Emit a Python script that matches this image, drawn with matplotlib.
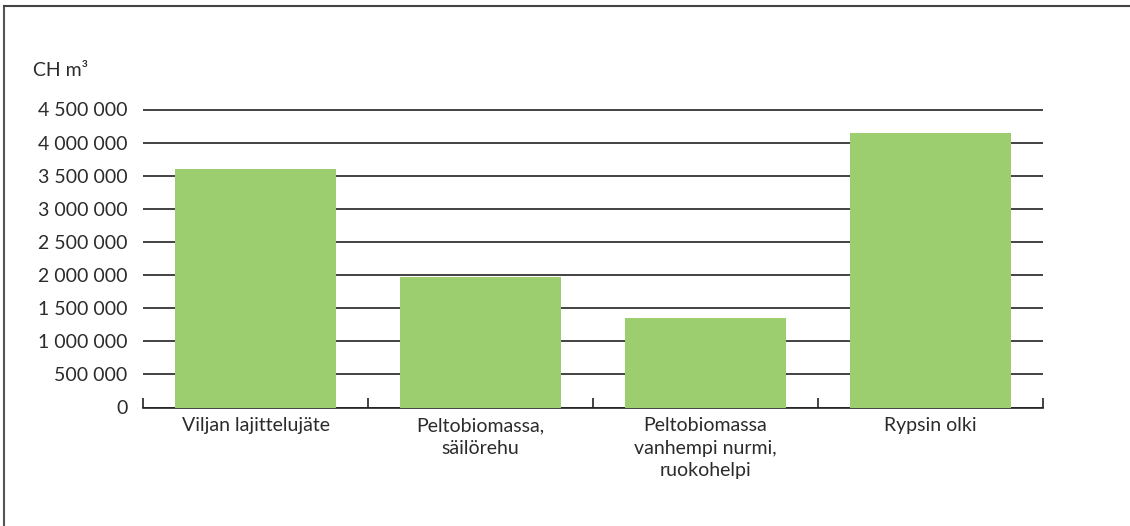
import matplotlib
matplotlib.use("Agg")
import matplotlib.pyplot as plt
from matplotlib.lines import Line2D
from matplotlib.ticker import FuncFormatter

plt.rcParams['font.family'] = ['Lato', 'DejaVu Sans']

categories = ["Viljan lajittelujäte", "Peltobiomassa,\nsäilörehu",
              "Peltobiomassa\nvanhempi nurmi,\nruokohelpi", "Rypsin olki"]
values = [3595000, 1970000, 1352000, 4147000]
y_ticks = [0, 500000, 1000000, 1500000, 2000000, 2500000, 3000000, 3500000, 4000000, 4500000]

W, H = 1130, 526
fig = plt.figure(figsize=(W / 100, H / 100), dpi=100)
ymax = 4550000
top_px = 109.5 - 298 / 4.5e6 * (ymax - 4.5e6)
ax = fig.add_axes([143 / W, 1 - 407.5 / H, 900 / W, (407.5 - top_px) / H])

text_color = "#2b2b2b"
fs = 14
ax.bar(range(len(categories)), values, width=0.716, color="#9ccd6f", zorder=3)

ax.set_xlim(-0.5, len(categories) - 0.5)
ax.set_ylim(0, ymax)
ax.set_yticks(y_ticks)
ax.yaxis.set_major_formatter(FuncFormatter(lambda v, p: f"{int(v):,}".replace(",", " ")))
ax.grid(axis="y", color="#222222", linewidth=1.2, zorder=0)
ax.tick_params(axis="y", length=0, pad=11, labelsize=fs, labelcolor=text_color)

# category labels centred under bars, boundary ticks pointing up
ax.set_xticks(range(len(categories)))
ax.set_xticklabels(categories, fontsize=fs, color=text_color, linespacing=1.4)
ax.tick_params(axis="x", which="major", length=0, pad=7)
ax.set_xticks([i - 0.5 for i in range(len(categories) + 1)], minor=True)
ax.tick_params(axis="x", which="minor", direction="in", length=7, width=1.2, color="#222222")

for s in ["top", "right", "left"]:
    ax.spines[s].set_visible(False)
ax.spines["bottom"].set_color("#222222")
ax.spines["bottom"].set_linewidth(1.2)

fig.text(33 / W, 1 - 70 / H, "CH m³", fontsize=fs, color=text_color, ha="left", va="center")

# frame on the top and left edge of the picture
fig.add_artist(Line2D([4 / W, 4 / W], [0, 1 - 6 / H], color="#555555", linewidth=1.5))
fig.add_artist(Line2D([4 / W, 1], [1 - 6 / H, 1 - 6 / H], color="#444444", linewidth=1.5))

fig.savefig("out.png", dpi=100)
